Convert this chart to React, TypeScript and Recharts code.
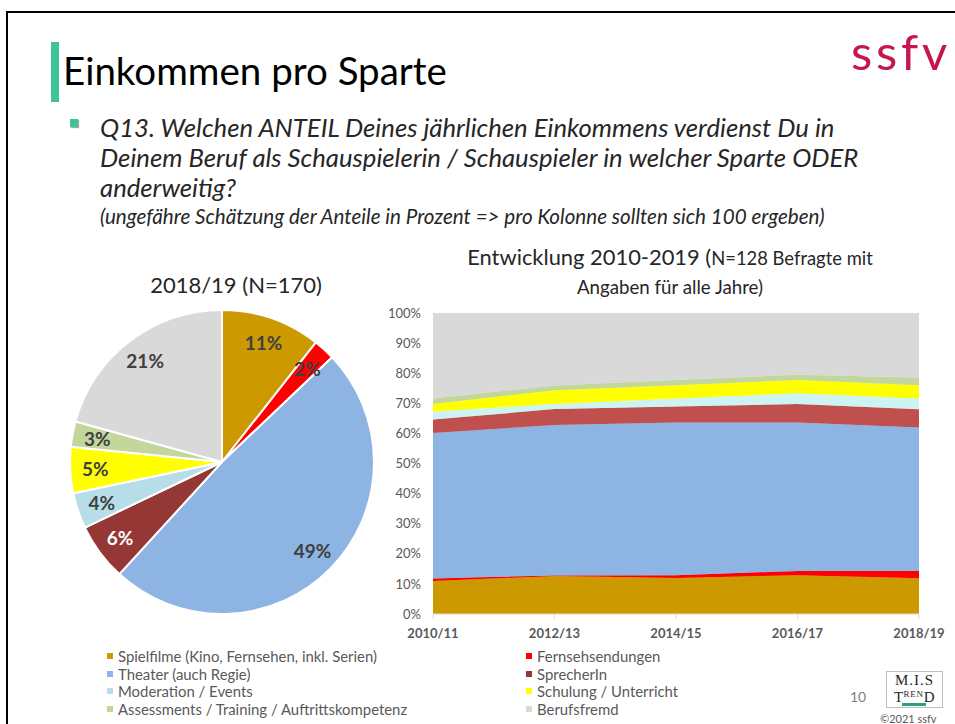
import React from 'react';
import { PieChart, Pie, Cell, AreaChart, Area, XAxis, YAxis } from 'recharts';

const categories = [
  'Spielfilme (Kino, Fernsehen, inkl. Serien)',
  'Fernsehsendungen',
  'Theater (auch Regie)',
  'SprecherIn',
  'Moderation / Events',
  'Schulung / Unterricht',
  'Assessments / Training / Auftrittskompetenz',
  'Berufsfremd',
];
const keys = ['spielfilme', 'fernseh', 'theater', 'sprecher', 'moderation', 'schulung', 'assessments', 'berufsfremd'];
const pieColors = ['#cc9900', '#ff0000', '#8eb4e3', '#953735', '#b7dee8', '#ffff00', '#c3d69b', '#d9d9d9'];
const areaColors = ['#cc9900', '#ff0000', '#8eb4e3', '#c0504d', '#cdf3f3', '#ffff00', '#c3d69b', '#d9d9d9'];

// Pie 2018/19 (N=170), percent
const pieValues = [10.6, 2.3, 48.9, 6.1, 3.8, 4.9, 2.7, 20.7];

// Entwicklung 2010-2019
const years = ['2010/11', '2012/13', '2014/15', '2016/17', '2018/19'];
const spielfilme = [11.0, 12.6, 12.0, 12.9, 11.9];
const fernseh = [0.8, 0.2, 0.9, 1.4, 2.4];
const theater = [48.3, 50.0, 50.7, 49.3, 47.7];
const sprecher = [4.5, 5.3, 5.3, 6.2, 6.0];
const moderation = [2.7, 1.7, 2.7, 3.5, 3.6];
const schulung = [2.5, 4.5, 4.4, 4.4, 4.4];
const assessments = [1.8, 1.6, 1.7, 1.8, 2.6];
const berufsfremd = [28.4, 24.1, 22.3, 20.5, 21.4];
const yTicks = [0, 10, 20, 30, 40, 50, 60, 70, 80, 90, 100];

const series = [spielfilme, fernseh, theater, sprecher, moderation, schulung, assessments, berufsfremd];
const areaData = years.map((y, i) => {
  const row: any = { year: y };
  keys.forEach((k, j) => (row[k] = series[j][i]));
  return row;
});
const pieData = categories.map((c, i) => ({ name: c, value: pieValues[i] }));

const FONT = 'Lato, "Open Sans", sans-serif';
const RADIAN = Math.PI / 180;

const renderPieLabel = (props: any) => {
  const { cx, cy, midAngle, outerRadius, value, index } = props;
  const r = outerRadius * 0.835;
  const x = cx + r * Math.cos(-midAngle * RADIAN);
  const y = cy + r * Math.sin(-midAngle * RADIAN);
  return (
    <text
      x={x}
      y={y}
      textAnchor="middle"
      dominantBaseline="central"
      fontFamily={FONT}
      fontWeight={700}
      fontSize={19}
      fill={index === 3 ? '#ffffff' : '#404040'}
    >
      {`${Math.round(value)}%`}
    </text>
  );
};

const abs = (left: number, top: number, extra: any = {}) => ({ position: 'absolute' as const, left, top, ...extra });

export default function App() {
  const legendLeft = categories.filter((_, i) => i % 2 === 0);
  const legendRight = categories.filter((_, i) => i % 2 === 1);
  const legendStyle = { display: 'flex', alignItems: 'center', whiteSpace: 'nowrap', fontSize: 14.9, color: '#595959', lineHeight: '18px' };
  return (
    <div style={{ position: 'absolute', left: 0, top: 0, width: 955, height: 724, background: '#fff', overflow: 'hidden', fontFamily: FONT }}>
      {/* slide border */}
      <div style={abs(6, 11, { width: 960, height: 720, borderTop: '2px solid #000', borderLeft: '2px solid #000' })} />
      {/* header */}
      <div style={abs(51, 42, { width: 8, height: 60, background: '#3fc595' })} />
      <div style={abs(63, 46, { fontSize: 38.5, color: '#000', whiteSpace: 'nowrap', lineHeight: '48px' })}>Einkommen pro Sparte</div>
      <div style={abs(851, 23, { fontSize: 49, letterSpacing: 3.8, color: '#c5174b', lineHeight: '56px', whiteSpace: 'nowrap' })}>ssfv</div>
      <div style={abs(70, 119, { width: 8, height: 8, background: '#3fc595', boxShadow: '1px 1px 1px #aaa' })} />
      <div style={abs(100, 112, { fontSize: 25.7, fontStyle: 'italic', color: '#262626', lineHeight: '30px', whiteSpace: 'nowrap' })}>
        Q13. Welchen ANTEIL Deines jährlichen Einkommens verdienst Du in<br />
        Deinem Beruf als Schauspielerin / Schauspieler in welcher Sparte ODER<br />
        anderweitig?
      </div>
      <div style={abs(100, 205, { fontSize: 20.6, fontStyle: 'italic', color: '#262626', lineHeight: '22px', whiteSpace: 'nowrap' })}>
        (ungefähre Schätzung der Anteile in Prozent =&gt; pro Kolonne sollten sich 100 ergeben)
      </div>

      {/* chart titles */}
      <div style={abs(86, 271, { width: 300, textAlign: 'center', fontSize: 22, color: '#262626', lineHeight: '28px' })}>2018/19 (N=170)</div>
      <div style={abs(420, 243, { width: 500, textAlign: 'center', color: '#262626', lineHeight: '28px', whiteSpace: 'nowrap' })}>
        <span style={{ fontSize: 21.9 }}>Entwicklung 2010-2019 (</span>
        <span style={{ fontSize: 18.4 }}>N=128 Befragte mit</span>
        <br />
        <span style={{ fontSize: 18.7 }}>Angaben für alle Jahre)</span>
      </div>

      {/* pie */}
      <div style={abs(62, 302)}>
        <PieChart width={320} height={320} margin={{ top: 0, right: 0, bottom: 0, left: 0 }}>
          <Pie
            data={pieData}
            dataKey="value"
            nameKey="name"
            cx={160}
            cy={160}
            outerRadius={152}
            startAngle={90}
            endAngle={-270}
            stroke="#ffffff"
            strokeWidth={2}
            label={renderPieLabel}
            labelLine={false}
            isAnimationActive={false}
          >
            {pieData.map((_, i) => (
              <Cell key={i} fill={pieColors[i]} />
            ))}
          </Pie>
        </PieChart>
      </div>

      {/* area */}
      <div style={abs(380, 300)}>
        <AreaChart width={575} height={344} data={areaData} margin={{ top: 13, right: 36, left: 0, bottom: 0 }}>
          <XAxis
            dataKey="year"
            height={30}
            tickSize={5}
            tickMargin={10}
            axisLine={{ stroke: '#d9d9d9' }}
            tickLine={{ stroke: '#d9d9d9' }}
            tick={{ fill: '#595959', fontSize: 13, fontWeight: 700, fontFamily: FONT }}
            interval={0}
          />
          <YAxis
            width={53}
            domain={[0, 100]}
            ticks={yTicks}
            allowDataOverflow
            axisLine={false}
            tickLine={false}
            tickSize={6}
            tickMargin={6}
            tickFormatter={(v: number) => `${v}%`}
            tick={{ fill: '#595959', fontSize: 13, fontFamily: FONT }}
          />
          {keys.map((k, i) => (
            <Area
              key={k}
              type="linear"
              dataKey={k}
              stackId="1"
              fill={areaColors[i]}
              fillOpacity={1}
              stroke={areaColors[i]}
              strokeWidth={0.5}
              isAnimationActive={false}
            />
          ))}
        </AreaChart>
      </div>

      {/* legend */}
      {legendLeft.map((c, i) => {
        const idx = i * 2;
        return (
          <div key={c} style={abs(107, 647 + i * 17.5, legendStyle)}>
            <span style={{ width: 6, height: 6, background: pieColors[idx], marginRight: 5, display: 'inline-block' }} />
            {c}
          </div>
        );
      })}
      {legendRight.map((c, i) => {
        const idx = i * 2 + 1;
        return (
          <div key={c} style={abs(526, 647 + i * 17.5, legendStyle)}>
            <span style={{ width: 6, height: 6, background: pieColors[idx], marginRight: 5, display: 'inline-block' }} />
            {c}
          </div>
        );
      })}

      {/* footer */}
      <div style={abs(850, 688, { fontSize: 14, color: '#7f7f7f' })}>10</div>
      <div style={abs(886, 671, { width: 57, height: 37, border: '1px solid #bfbfbf', boxSizing: 'border-box', fontFamily: '"Liberation Serif", "DejaVu Serif", serif', color: '#262626', textAlign: 'center', whiteSpace: 'nowrap' })}>
        <div style={{ fontSize: 15, lineHeight: '17px', marginTop: 0, letterSpacing: 1 }}>M.I.S</div>
        <div style={{ fontSize: 15, lineHeight: '16px', letterSpacing: 0.3 }}>
          T<span style={{ fontSize: 9, letterSpacing: 0.8, verticalAlign: 'top', lineHeight: '11px' }}>REN</span>D
        </div>
        <div style={{ position: 'absolute', left: 15, top: 31, width: 24, height: 3, background: '#2e9e82' }} />
      </div>
      <div style={abs(880, 712, { fontSize: 11, color: '#595959', whiteSpace: 'nowrap' })}>©2021 ssfv</div>
    </div>
  );
}
